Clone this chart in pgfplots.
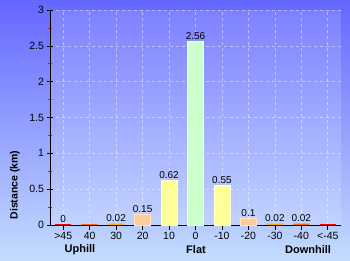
\documentclass[border=0pt]{standalone}
\usepackage{pgfplots}
\pgfplotsset{compat=1.18}
\usepackage{fontspec}
\setmainfont{Liberation Sans}
\begin{document}
\begin{tikzpicture}[x=1pt,y=1pt]
\shade[top color={rgb,255:red,100;green,102;blue,255}, bottom color={rgb,255:red,196;green,220;blue,255}] (0,0) rectangle (350,260);
\useasboundingbox (0,0) rectangle (350,260);
\begin{axis}[
  at={(50pt,35pt)}, anchor=south west,
  scale only axis, width=291pt, height=215pt,
  xmin=-0.5, xmax=10.5, ymin=0, ymax=3,
  axis x line*=bottom, axis y line*=left,
  axis line style={black, line width=0.8pt},
  axis background/.style={fill=white, fill opacity=0.15},
  xtick={0,...,10},
  xticklabels={{>45},40,30,20,10,0,-10,-20,-30,-40,{<-45}},
  xticklabel style={yshift=1.5pt},
  ytick={0,0.5,1,1.5,2,2.5,3},
  yticklabel style={/pgf/number format/fixed},
  minor y tick num=1,
  minor tick style={red, line width=0.6pt},
  major tick style={black, line width=0.6pt},
  tick align=center,
  major tick length=5pt, minor tick length=3pt,
  xmajorgrids, ymajorgrids,
  major grid style={white, opacity=0.45, dashed, line width=0.6pt},
  tick label style={font=\fontsize{10.5}{12}\selectfont, black},
  /pgf/number format/assume math mode=true,
  ybar, bar width=16pt, bar shift=0pt,
  point meta=explicit symbolic,
  nodes near coords,
  every node near coord/.append style={font=\fontsize{10}{12}\selectfont, black, inner sep=1.5pt},
  clip=false,
]
\addplot[fill={rgb,255:red,255;green,0;blue,0}, draw=none] coordinates {(0,0.012) [0] (10,0.012) []};
\addplot[fill={rgb,255:red,255;green,102;blue,0}, draw=none] coordinates {(1,0.012) [] (9,0.02) [0.02]};
\addplot[fill={rgb,255:red,255;green,170;blue,0}, draw=none] coordinates {(2,0.02) [0.02] (8,0.02) [0.02]};
\addplot[fill={rgb,255:red,255;green,204;blue,153}, draw={rgb,255:red,255;green,230;blue,200}] coordinates {(3,0.15) [0.15] (7,0.1) [0.1]};
\addplot[fill={rgb,255:red,255;green,255;blue,153}, draw={rgb,255:red,255;green,255;blue,210}] coordinates {(4,0.62) [0.62] (6,0.55) [0.55]};
\addplot[fill={rgb,255:red,204;green,255;blue,204}, draw={rgb,255:red,235;green,255;blue,235}] coordinates {(5,2.56) [2.56]};
\end{axis}
\node[rotate=90, font=\bfseries\fontsize{10.5}{12}\selectfont] at (15,75) {Distance (km)};
\node[font=\bfseries\fontsize{11}{12}\selectfont] at (80,10) {Uphill};
\node[font=\bfseries\fontsize{11}{12}\selectfont] at (196,10) {Flat};
\node[font=\bfseries\fontsize{11}{12}\selectfont] at (308,10) {Downhill};
\end{tikzpicture}
\end{document}
